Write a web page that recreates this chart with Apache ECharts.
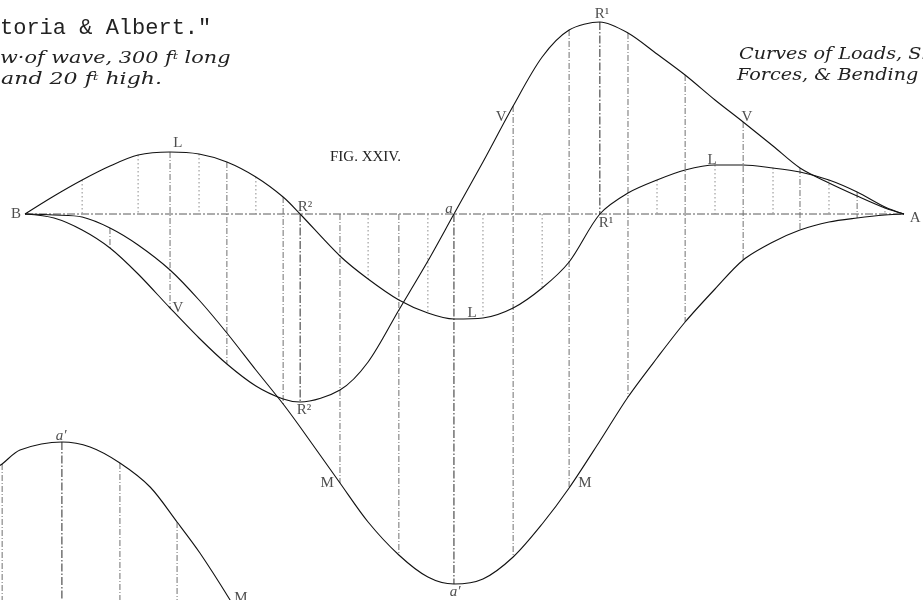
<!DOCTYPE html>
<html>
<head>
<meta charset="utf-8">
<script src="https://cdn.jsdelivr.net/npm/echarts@6/dist/echarts.min.js"></script>
<style>
  html, body { margin: 0; padding: 0; background: #fff; }
  #chart { width: 923px; height: 600px; }
</style>
</head>
<body>
<div id="chart"></div>
<script>
// Stations along the wave, in feet from B towards A
const stations = [0, 9.9, 19.5, 29.0, 38.6, 49.5, 59.4, 68.9, 78.8, 88.1, 93.9,
  107.5, 117.1, 127.6, 137.5, 146.4, 156.3, 166.6, 176.5, 185.7, 196.2,
  205.8, 215.7, 225.3, 235.5, 245.1, 255.3, 264.5, 274.4, 284.0, 293.5, 300];

// Ordinates of the three curves at each station (drawing units, up = positive)
const loadCurve = [0, 18, 34, 48, 59, 62, 60, 52, 37, 17, 0,
  -42, -65, -86, -99, -105, -104, -94, -74, -48, 0,
  21, 34, 44, 49, 49, 46, 42, 34, 22, 7, 0];
const shearCurve = [0, -4, -16, -34, -60, -94, -124, -150, -172, -185, -188,
  -176, -148, -96, -47, 0, 52, 108, 157, 184, 192,
  181, 160, 139, 114, 92, 68, 46, 31, 18, 6, 0];
const momentCurve = [0, -1, -3, -14, -31, -56, -86, -119, -156, -190, -213,
  -269, -308, -341, -363, -370, -365, -343, -310, -274, -227,
  -183, -144, -108, -75, -46, -28, -16, -8, -4, -1, 0];

// Kind of ordinate drawn at each station
const hatchKind = ['', '', 'minor', 'mv', 'minor', 'major', 'minor', 'major', 'minor', 'major', 'shear',
  'major', 'minor', 'major', 'minor', 'centre', 'minor', 'major', 'minor', 'major', 'shear',
  'major', 'minor', 'major', 'minor', 'major', 'minor', 'major', 'minor', 'major', 'minor', ''];

// Second moment curve (a' ... M), lower left
const auxStations = [-10, -7.8, -1.7, 12.6, 22.2, 32.4, 42.7, 51.9, 59.7, 70.0, 76.8];
const auxMoment = [-254, -250, -236, -228, -233, -249, -273, -308, -339, -386, -420];
const auxHatch = ['', 'major', '', 'centre', '', 'major', '', 'major', '', '', ''];
const auxBase = -450;

// Lettering on the diagram: [feet, ordinate, text, italic]
const letters = [
  [-3.1, 0, 'B', false], [303.8, -4, 'A', false],
  [52.2, 71, 'L', false], [152.6, -99, 'L', false], [234.5, 54, 'L', false],
  [95.6, 7, 'R²', false], [95.2, -196, 'R²', false],
  [144.7, 5, 'a', true],
  [198.3, -9, 'R¹', false], [196.9, 200, 'R¹', false],
  [52.2, -94, 'V', false], [162.5, 97, 'V', false], [246.4, 97, 'V', false],
  [103.1, -269, 'M', false], [191.1, -269, 'M', false],
  [146.8, -378, 'a′', true], [12.3, -222, 'a′', true], [73.7, -384, 'M', false]
];

// Drawing scale: B sits 25px in, 2.93px per foot, base line 214px from the top
const PX_PER_FT = 2.93, B_PX = 25, BASE_PX = 214, W = 923, H = 600;
const X_MIN = -B_PX / PX_PER_FT, X_MAX = (W - B_PX) / PX_PER_FT;
const Y_MAX = BASE_PX, Y_MIN = BASE_PX - H;

const STYLES = {
  minor:  { stroke: '#8c8c8c', lineDash: [1.5, 2.5] },
  major:  { stroke: '#707070', lineDash: [6, 2, 1, 2] },
  mv:     { stroke: '#707070', lineDash: [6, 2, 1, 2] },
  centre: { stroke: '#2a2a2a', lineDash: [8, 2, 1.5, 2] },
  shear:  { stroke: '#2a2a2a', lineDash: [8, 2, 1.5, 2] }
};
const KINDS = Object.keys(STYLES);

function span(i, kind) {
  const l = loadCurve[i], v = shearCurve[i], m = momentCurve[i];
  if (kind === 'minor') return [Math.max(0, l), Math.min(0, l)];
  if (kind === 'mv') return [Math.max(v, m), Math.min(v, m)];
  if (kind === 'shear') return [Math.max(0, v), Math.min(0, v)];
  return [Math.max(0, l, v, m), Math.min(0, l, v, m)];
}

const hatchData = [];
stations.forEach((x, i) => {
  const k = hatchKind[i];
  if (!k) return;
  const s = span(i, k);
  hatchData.push([x, s[0], s[1], KINDS.indexOf(k)]);
});
auxStations.forEach((x, i) => {
  const k = auxHatch[i];
  if (!k) return;
  hatchData.push([x, auxMoment[i], auxBase, KINDS.indexOf(k)]);
});

const pairs = (xs, ys) => xs.map((x, i) => [x, ys[i]]);
const curveStyle = { color: '#111', width: 1.1 };
function curve(name, xs, ys) {
  return {
    name, type: 'line', data: pairs(xs, ys), smooth: 0.3,
    symbol: 'none', lineStyle: curveStyle, z: 5, silent: true, animation: false
  };
}

const captionRich = {
  t: { font: 'italic 16px "DejaVu Serif"', fill: '#222' },
  s: { font: 'italic 10px "DejaVu Serif"', fill: '#222', verticalAlign: 'top' }
};

const chart = echarts.init(document.getElementById('chart'), null, { renderer: 'canvas' });
chart.setOption({
  backgroundColor: '#fff',
  animation: false,
  grid: { left: 0, right: 0, top: 0, bottom: 0, containLabel: false },
  xAxis: { type: 'value', min: X_MIN, max: X_MAX, show: false },
  yAxis: { type: 'value', min: Y_MIN, max: Y_MAX, show: false },
  series: [
    {
      name: 'base', type: 'line', data: [[0, 0], [300, 0]], symbol: 'none', z: 2,
      lineStyle: { color: '#5a5a5a', width: 1, type: [8, 2, 2, 2] }, silent: true
    },
    {
      name: 'ordinates', type: 'custom', data: hatchData, z: 3, silent: true,
      encode: { x: 0, y: [1, 2] },
      renderItem(params, api) {
        const p1 = api.coord([api.value(0), api.value(1)]);
        const p2 = api.coord([api.value(0), api.value(2)]);
        const st = STYLES[KINDS[api.value(3)]];
        return {
          type: 'line',
          shape: { x1: p1[0], y1: p1[1], x2: p2[0], y2: p2[1] },
          style: { stroke: st.stroke, lineWidth: 1, lineDash: st.lineDash }
        };
      }
    },
    curve('Loads', stations, loadCurve),
    curve('Shearing Forces', stations, shearCurve),
    curve('Bending Moments', stations, momentCurve),
    curve('Moments a′', auxStations, auxMoment),
    {
      name: 'letters', type: 'scatter', symbolSize: 0, z: 10, silent: true,
      data: letters.map(d => ({
        value: [d[0], d[1]], name: d[2],
        label: { fontStyle: d[3] ? 'italic' : 'normal' }
      })),
      label: {
        show: true, position: 'inside', formatter: '{b}',
        fontFamily: 'Liberation Serif', fontSize: 15, color: '#222'
      }
    }
  ],
  graphic: [
    {
      type: 'text', x: -4 * 13.2, y: 28,
      style: { text: '"Victoria & Albert."', font: '22px "Liberation Mono"', fill: '#222', verticalAlign: 'middle' }
    },
    {
      type: 'text', x: 0, y: 59, scaleX: 1.3,
      style: { text: '{t|w·of wave, 300 f}{s|t}{t| long}', verticalAlign: 'middle', rich: captionRich }
    },
    {
      type: 'text', x: 1, y: 80, scaleX: 1.38,
      style: { text: '{t|and 20 f}{s|t}{t| high.}', verticalAlign: 'middle', rich: captionRich }
    },
    {
      type: 'text', x: 739, y: 55, scaleX: 1.2,
      style: { text: 'Curves of Loads, Shearing', font: 'italic 16px "DejaVu Serif"', fill: '#222', verticalAlign: 'middle' }
    },
    {
      type: 'text', x: 737, y: 76, scaleX: 1.2,
      style: { text: 'Forces, & Bending Moments.', font: 'italic 16px "DejaVu Serif"', fill: '#222', verticalAlign: 'middle' }
    },
    {
      type: 'text', x: 330, y: 157,
      style: { text: 'FIG. XXIV.', font: '15px "Liberation Serif"', fill: '#222', verticalAlign: 'middle' }
    }
  ]
});
</script>
</body>
</html>
